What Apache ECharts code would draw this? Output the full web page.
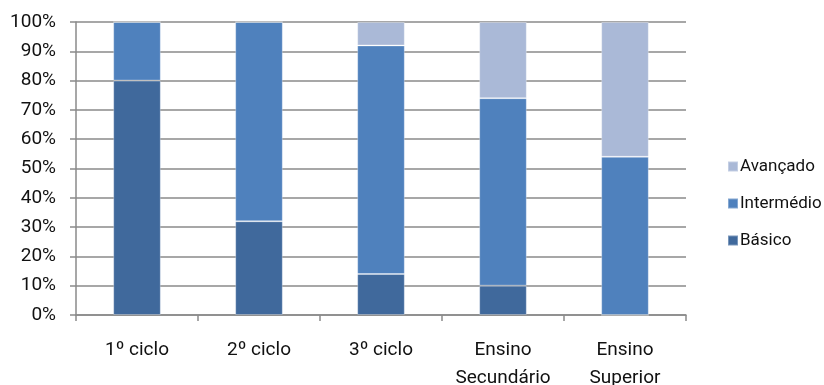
<!DOCTYPE html>
<html>
<head>
<meta charset="utf-8">
<script src="https://cdn.jsdelivr.net/npm/echarts@6/dist/echarts.min.js"></script>
<style>
  html, body { margin: 0; padding: 0; background: #fff; overflow: hidden; }
  #chart { width: 824px; height: 385px; }
</style>
</head>
<body>
<div id="chart"></div>
<script>
// Níveis de competência por ciclo de ensino (percentagens)
const categories = ['1º ciclo', '2º ciclo', '3º ciclo', 'Ensino\nSecundário', 'Ensino\nSuperior'];
const basico = [80, 32, 14, 10, 0];
const intermedio = [20, 68, 78, 64, 54];
const avancado = [0, 0, 8, 26, 46];
const yTicks = [0, 10, 20, 30, 40, 50, 60, 70, 80, 90, 100];

const font = 'Roboto, "Liberation Sans", sans-serif';
const gridGray = '#8a8a8a';

const barStyle = (color) => ({
  color: color,
  borderColor: 'rgba(255,255,255,0.3)',
  borderWidth: 1
});

const chart = echarts.init(document.getElementById('chart'), null, { renderer: 'canvas' });
chart.setOption({
  animation: false,
  grid: { left: 76, right: 138, top: 22, bottom: 70, containLabel: false, outerBoundsMode: 'none' },
  legend: {
    orient: 'vertical',
    left: 722,
    top: 153,
    itemWidth: 10,
    itemHeight: 10,
    itemGap: 20,
    icon: 'rect',
    data: ['Avançado', 'Intermédio', 'Básico'],
    textStyle: { fontFamily: font, fontSize: 17, color: '#111', padding: [0, 0, 0, -3] }
  },
  xAxis: {
    type: 'category',
    data: categories,
    axisLine: { lineStyle: { color: gridGray, width: 1.5 } },
    axisTick: { show: true, length: 6, lineStyle: { color: gridGray, width: 1.5 } },
    axisLabel: {
      interval: 0,
      fontFamily: font, fontSize: 19, color: '#111', margin: 21, lineHeight: 28
    }
  },
  yAxis: {
    type: 'value',
    min: yTicks[0],
    max: yTicks[yTicks.length - 1],
    interval: yTicks[1] - yTicks[0],
    axisLine: { show: true, lineStyle: { color: gridGray, width: 1.5 } },
    axisTick: { show: true, length: 6, lineStyle: { color: gridGray, width: 1.5 } },
    splitLine: { lineStyle: { color: gridGray, width: 1.5 } },
    axisLabel: {
      fontFamily: font, fontSize: 19, color: '#111', margin: 20,
      formatter: (v) => v + '%'
    }
  },
  series: [
    { name: 'Básico', type: 'bar', stack: 'total', barWidth: '39%', data: basico, itemStyle: barStyle('#40699c') },
    { name: 'Intermédio', type: 'bar', stack: 'total', barWidth: '39%', data: intermedio, itemStyle: barStyle('#4f81bd') },
    { name: 'Avançado', type: 'bar', stack: 'total', barWidth: '39%', data: avancado, itemStyle: barStyle('#aab9d7') }
  ]
});
</script>
</body>
</html>
